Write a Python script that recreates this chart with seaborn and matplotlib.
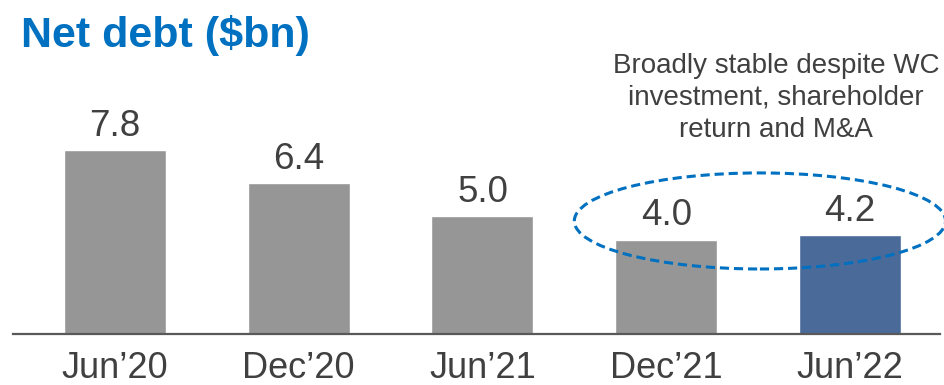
import matplotlib
matplotlib.use("Agg")
import matplotlib.pyplot as plt
import seaborn as sns
import pandas as pd
from matplotlib.patches import Ellipse

categories = ["Jun\u201920", "Dec\u201920", "Jun\u201921", "Dec\u201921", "Jun\u201922"]
values = [7.8, 6.4, 5.0, 4.0, 4.2]
labels = ["7.8", "6.4", "5.0", "4.0", "4.2"]
bar_colors = ["#969696", "#969696", "#969696", "#969696", "#4A6A9A"]
title = "Net debt ($bn)"
note = "Broadly stable despite WC\ninvestment, shareholder\nreturn and M&A"

sns.set_theme(style="white")
plt.rcParams['font.family'] = ['Liberation Sans', 'DejaVu Sans']

W, H = 945, 385
fig = plt.figure(figsize=(W / 100, H / 100), dpi=100)
ax = fig.add_axes([13 / W, 51 / H, 927 / W, 324 / H])

df = pd.DataFrame({"cat": categories, "val": values})
sns.barplot(data=df, x="cat", y="val", hue="cat", palette=bar_colors,
            legend=False, width=0.555, ax=ax, saturation=1)

ax.set_xlim(-0.555, 4.49)
ax.set_ylim(0, 324 / 23.6)
ax.set_xlabel("")
ax.set_ylabel("")
ax.set_yticks([])
for s in ["top", "right", "left"]:
    ax.spines[s].set_visible(False)
ax.spines["bottom"].set_color("#595959")
ax.spines["bottom"].set_linewidth(1.6)
ax.tick_params(axis="x", length=0, pad=12, labelsize=26, labelcolor="#404040")

for i, (v, lab) in enumerate(zip(values, labels)):
    ax.text(i, v + 0.6, lab, ha="center", va="baseline", fontsize=26.5, color="#404040")

ell = Ellipse((3.51, 4.79), width=2.02, height=4.07, fill=False,
              edgecolor="#0070C0", linewidth=2.2, linestyle=(0, (3, 1.6)),
              clip_on=False, zorder=5)
ax.add_patch(ell)

fig.text(21 / W, 1 - 35 / H, title, fontsize=31, fontweight="bold",
         color="#0070C0", ha="left", va="center")
fig.text(776 / W, 1 - 98 / H, note, fontsize=20, color="#404040",
         ha="center", va="center", linespacing=1.28)

fig.savefig("out.png", dpi=100)
